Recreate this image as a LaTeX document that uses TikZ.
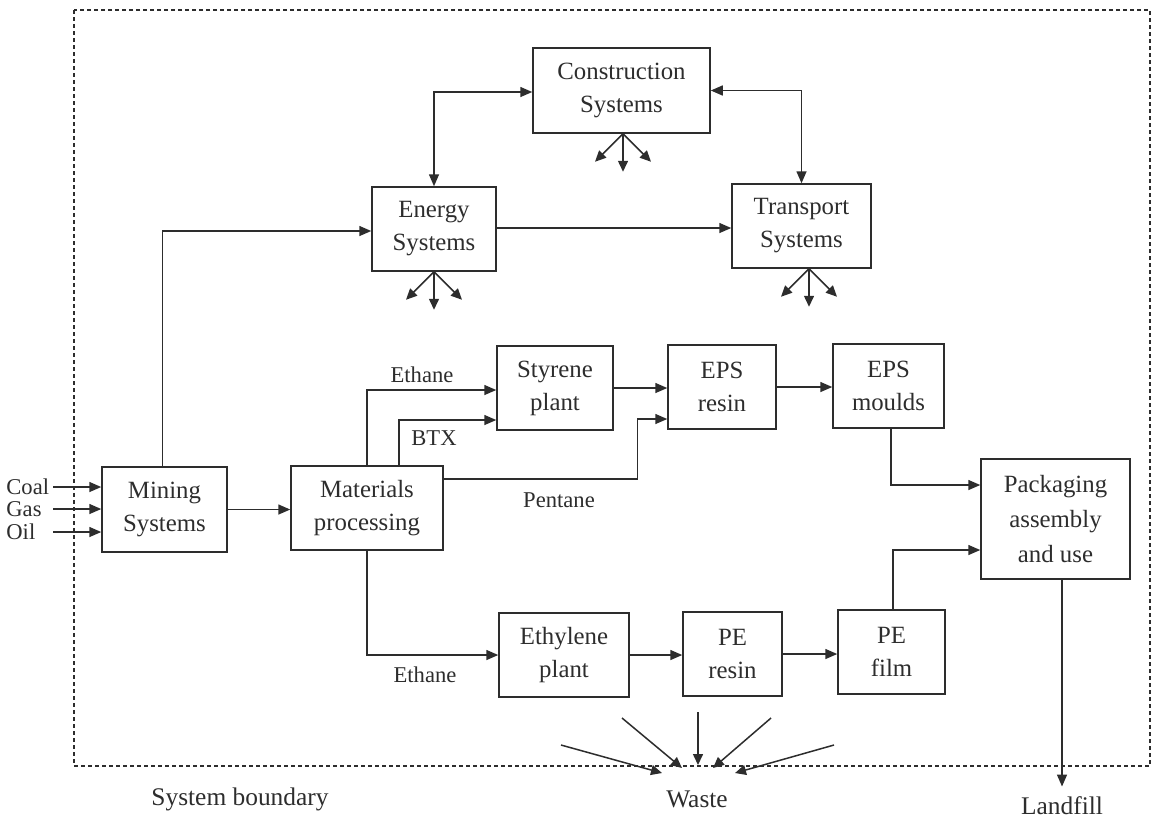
\documentclass[tikz,border=0pt]{standalone}
\usepackage{fontspec}
\setmainfont{Liberation Serif}
\usetikzlibrary{arrows.meta,calc}
\definecolor{ink}{RGB}{45,45,45}
\begin{document}
\begin{tikzpicture}[x=0.5pt,y=-0.5pt,
  box/.style={draw=ink,line width=0.75pt,align=center,inner sep=0pt,font=\fontsize{12.4}{16.5}\selectfont,text=ink},
  lbl/.style={font=\fontsize{11.3}{13}\selectfont,text=ink,inner sep=0pt},
  big/.style={font=\fontsize{12.7}{15}\selectfont,text=ink,inner sep=0pt},
  arr/.style={draw=ink,line width=0.75pt,-{Triangle[length=6pt,width=5pt]}},
  darr/.style={draw=ink,line width=0.75pt,{Triangle[length=6pt,width=5pt]}-{Triangle[length=6pt,width=5pt]}},
  emit/.style={draw=ink,line width=0.75pt,-{Triangle[length=5.5pt,width=5pt]}},
  bnd/.style={draw=ink,line width=0.65pt,dash pattern=on 2pt off 1.5pt}
]
\useasboundingbox (0,0) rectangle (1154,832);

% system boundary
\draw[bnd] (74,10) rectangle (1150,766);

% boxes
\node[box,minimum width=88.5pt,minimum height=42.5pt] (cons)   at (621.5,90.5) {Construction\\Systems};
\node[box,minimum width=62pt,minimum height=42pt]     (energy) at (434,229)    {Energy\\Systems};
\node[box,minimum width=69.5pt,minimum height=42pt]   (trans)  at (801.5,226)  {Transport\\Systems};
\node[box,minimum width=58pt,minimum height=42pt]     (styr)   at (555,388)    {Styrene\\plant};
\node[box,minimum width=54pt,minimum height=42pt]     (epsr)   at (722,387)    {EPS\\resin};
\node[box,minimum width=55.5pt,minimum height=42pt]   (epsm)   at (888.5,386)  {EPS\\moulds};
\node[box,minimum width=62.5pt,minimum height=42.5pt] (mining) at (164.5,509.5) {Mining\\Systems};
\node[box,minimum width=76pt,minimum height=42pt]     (mat)    at (367,508)    {Materials\\processing};
\node[box,minimum width=74.5pt,minimum height=60pt,font=\fontsize{12.4}{17.5}\selectfont] (pack) at (1055.5,519) {Packaging\\assembly\\and use};
\node[box,minimum width=65pt,minimum height=42pt]     (eth)    at (564,655)    {Ethylene\\plant};
\node[box,minimum width=49.5pt,minimum height=42pt]   (per)    at (732.5,654)  {PE\\resin};
\node[box,minimum width=53.5pt,minimum height=42pt]   (pef)    at (891.5,652)  {PE\\film};

% texts
\node[lbl,anchor=west] (coal) at (6,487) {Coal};
\node[lbl,anchor=west] (gas)  at (6,509) {Gas};
\node[lbl,anchor=west] (oil)  at (6,532) {Oil};
\node[lbl] (ethA) at (422,375) {Ethane};
\node[lbl] (btx)  at (434,438) {BTX};
\node[lbl] (pent) at (559,500) {Pentane};
\node[lbl] (ethB) at (425,675) {Ethane};
\node[big] (sysb) at (240,799) {System boundary};
\node[big] (waste) at (697,799) {Waste};
\node[big] (land) at (1062,806) {Landfill};

% inputs
\coordinate (coalS) at (53,487);
\coordinate (gasS)  at (53,509);
\coordinate (oilS)  at (53,532);
\draw[arr] (coalS) -- (coalS -| mining.west);
\draw[arr] (gasS)  -- (gasS -| mining.west);
\draw[arr] (oilS)  -- (oilS -| mining.west);

% upper systems
\draw[arr]  ($(mining.north)+(-2,0)$) |- ($(energy.west)+(0,2)$);
\draw[darr] (energy.north) |- ($(cons.west)+(0,1.5)$);
\draw[darr] (trans.north) |- ($(cons.east)+(0,0)$);
\draw[arr]  ($(energy.east)+(0,-1)$) -- ($(energy.east -| trans.west)+(0,-1)$);

% emissions
\foreach \n/\dx in {cons/1.5,energy/0,trans/7.5}{
  \draw[emit] ($(\n.south)+(\dx,0)$) -- ++(-28,28);
  \draw[emit] ($(\n.south)+(\dx,0)$) -- ++(0,38);
  \draw[emit] ($(\n.south)+(\dx,0)$) -- ++(28,28);
}

% materials chain
\draw[arr] (mining.east) -- (mining.east -| mat.west);
\draw[arr] (mat.north) |- ($(styr.west)+(0,2)$);
\draw[arr] ($(mat.north)+(32,0)$) |- ($(styr.west)+(0,32)$);
\draw[arr] ($(mat.east)+(0,-29)$) -| ($(epsr.west)+(-30,32)$) -- ($(epsr.west)+(0,32)$);
\draw[arr] (styr.east) -- (styr.east -| epsr.west);
\draw[arr] (epsr.east) -- (epsr.east -| epsm.west);
\draw[arr] ($(epsm.south)+(2.5,0)$) |- ($(pack.west)+(0,-34)$);

\draw[arr] (mat.south) |- (eth.west);
\draw[arr] (eth.east) -- (eth.east -| per.west);
\draw[arr] (per.east) -- (per.east -| pef.west);
\draw[arr] ($(pef.north)+(1.5,0)$) |- ($(pack.west)+(0,31)$);

% landfill
\draw[arr] (pack.south -| land) -- ([yshift=5pt]land.north);

% waste
\coordinate (w1) at (561,745); \coordinate (t1) at (662,773);
\coordinate (w2) at (622,718); \coordinate (t2) at (682,768);
\coordinate (w3) at (698,712); \coordinate (t3) at (698,765);
\coordinate (w4) at (771,718); \coordinate (t4) at (713,768);
\coordinate (w5) at (834,745); \coordinate (t5) at (735,773);
\foreach \i in {1,...,5}{\draw[emit] (w\i) -- (t\i);}
\end{tikzpicture}
\end{document}
